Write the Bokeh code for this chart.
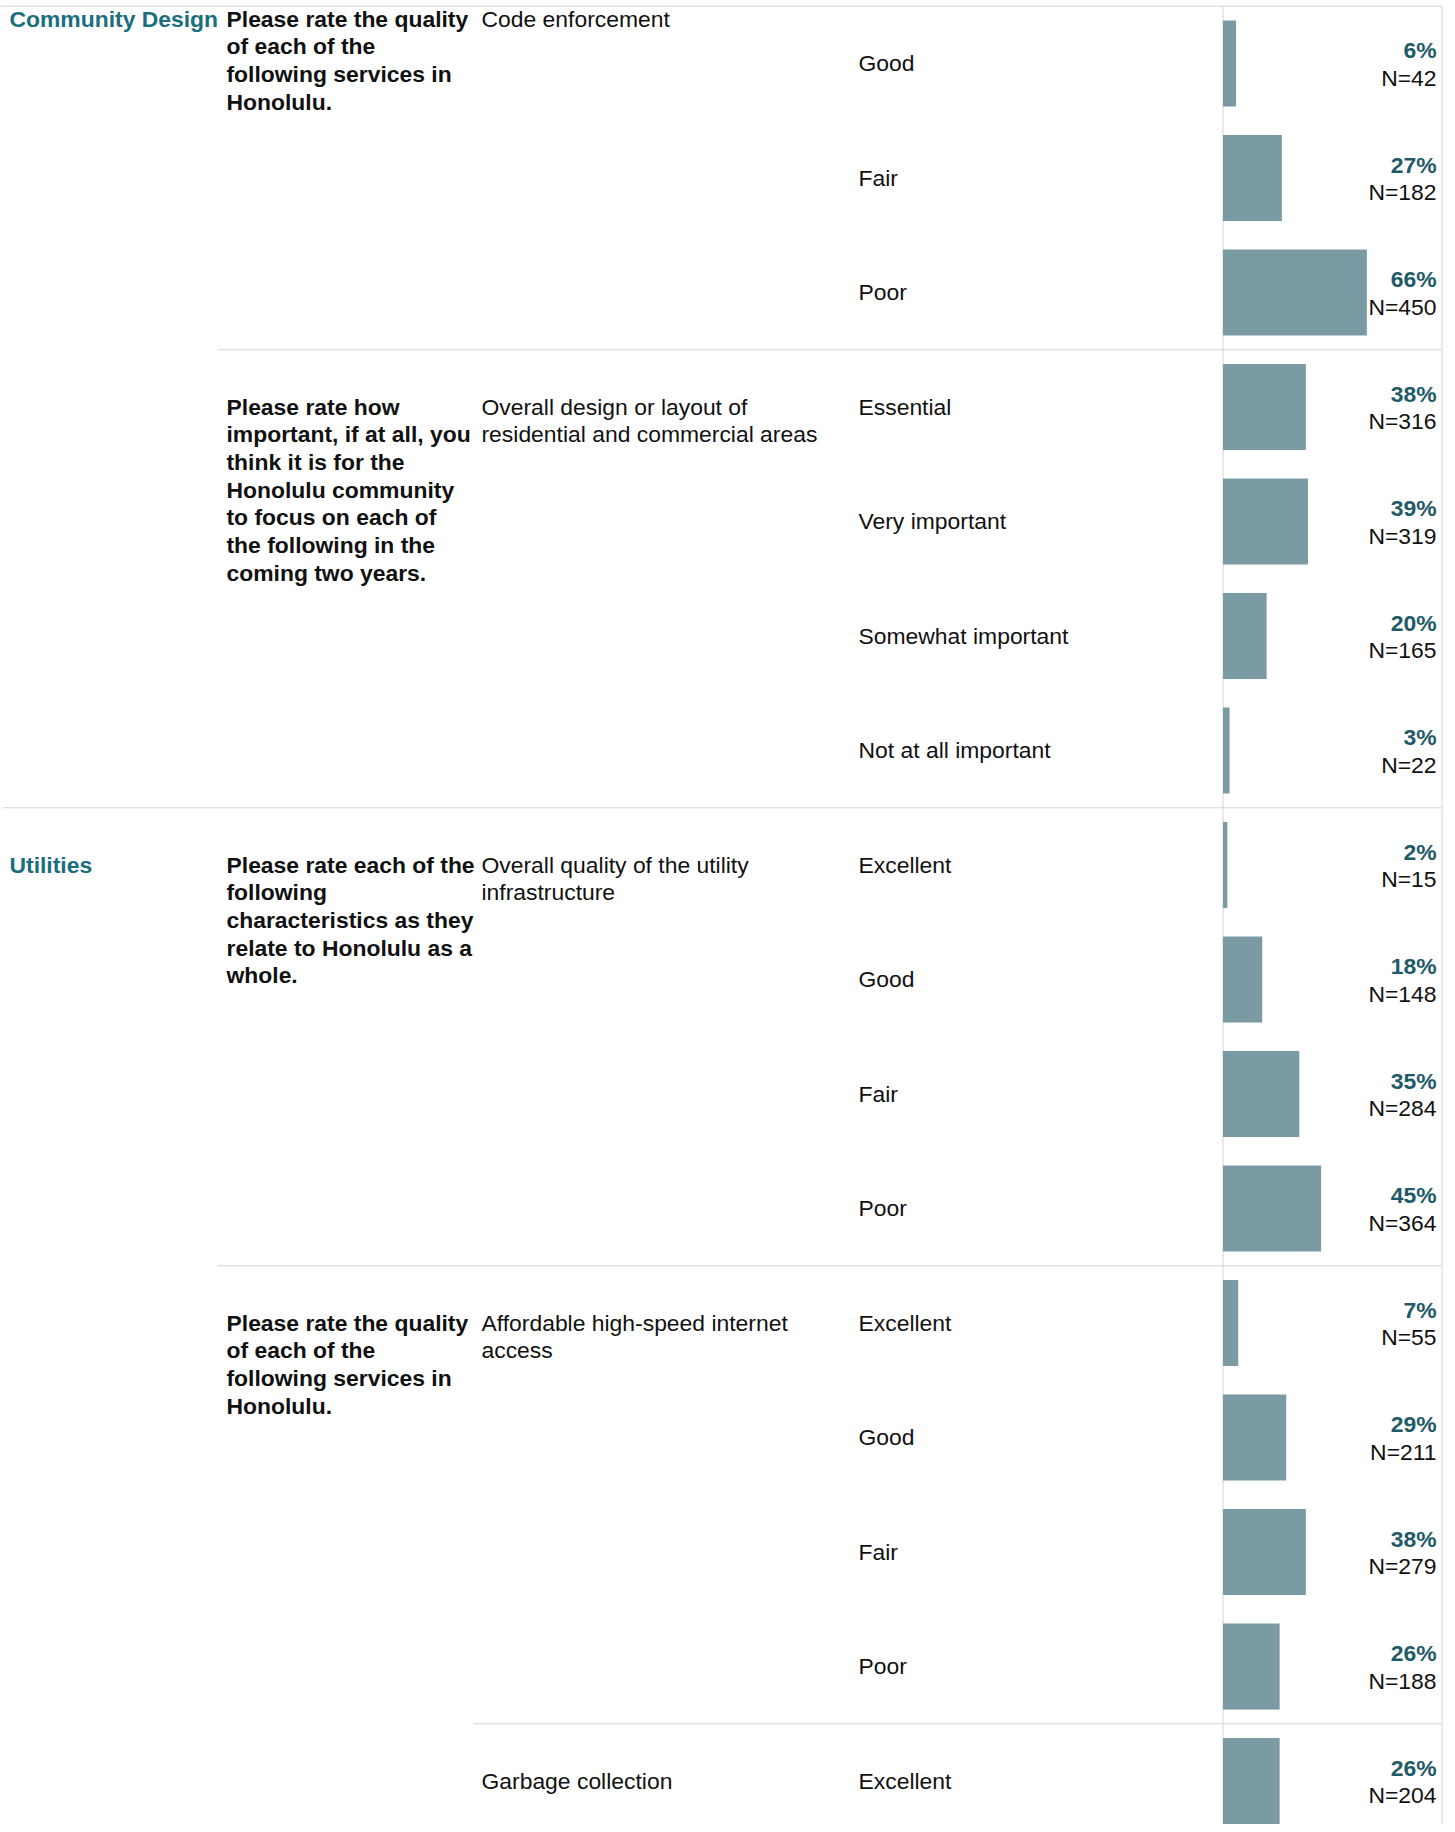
from bokeh.plotting import figure
from bokeh.models import Range1d, ColumnDataSource
from bokeh.embed import file_html
from bokeh.resources import INLINE
from bokeh.core.properties import value

# ---------------- data ----------------
answers = ["Good", "Fair", "Poor",
           "Essential", "Very important", "Somewhat important", "Not at all important",
           "Excellent", "Good", "Fair", "Poor",
           "Excellent", "Good", "Fair", "Poor",
           "Excellent"]
percents = [6, 27, 66,
            38, 39, 20, 3,
            2, 18, 35, 45,
            7, 29, 38, 26,
            26]
counts = [42, 182, 450,
          316, 319, 165, 22,
          15, 148, 284, 364,
          55, 211, 279, 188,
          204]

categories = ["Community Design", "Utilities"]
category_start = [-1, 7]          # -1: group begins above the visible part (sticky header)

questions = [
    ["Please rate the quality", "of each of the", "following services in", "Honolulu."],
    ["Please rate how", "important, if at all, you", "think it is for the", "Honolulu community",
     "to focus on each of", "the following in the", "coming two years."],
    ["Please rate each of the", "following", "characteristics as they", "relate to Honolulu as a",
     "whole."],
    ["Please rate the quality", "of each of the", "following services in", "Honolulu."],
]
question_start = [-1, 3, 7, 11]

items = [
    ["Code enforcement"],
    ["Overall design or layout of", "residential and commercial areas"],
    ["Overall quality of the utility", "infrastructure"],
    ["Affordable high-speed internet", "access"],
    ["Garbage collection"],
]
item_start = [-1, 3, 7, 11, 15]

# ---------------- layout (page pixels) ----------------
W, H = 1447, 1824
ROW0_PX = 63.0
ROW_PX = 114.5
BAR_X0 = 1222.5
PX_PER_PCT = 2.18
RIGHT_X = 1441.5
COL_CAT, COL_Q, COL_ITEM, COL_ANS, COL_VAL = 9, 226, 481, 858, 1436
LINE_PX = 27.7
CAP_HALF = 8.3
SHIFT = -8.8          # renderer baseline correction
STICKY_PX = 13.0
FONT = value("Liberation Sans")
FS = "22.9px"
TEAL = "#1a6e7e"
DARK_TEAL = "#1f5a68"
BAR = "#7a9ba3"
GRID = "#d4d4d4"
TXT = "#111111"

top_row = (0 - ROW0_PX) / ROW_PX
bottom_row = (H - ROW0_PX) / ROW_PX
px = lambda d: d / ROW_PX  # pixel offset -> row units

p = figure(width=W, height=H,
           x_range=Range1d(0, W),
           y_range=Range1d(bottom_row, top_row),
           output_backend="svg", toolbar_location=None,
           x_axis_location=None, y_axis_location=None,
           min_border=0, outline_line_color=None)
p.extra_x_ranges = {"pct": Range1d((0 - BAR_X0) / PX_PER_PCT, (W - BAR_X0) / PX_PER_PCT)}
p.xgrid.visible = False
p.ygrid.visible = False
p.background_fill_color = "white"
p.border_fill_color = "white"

rows = list(range(len(answers)))

# separators
sep_y, sep_x0 = [-0.5], [0]
for s in category_start:
    if s > 0:
        sep_y.append(s - 0.5); sep_x0.append(2)
for s in question_start:
    if s > 0 and s not in category_start:
        sep_y.append(s - 0.5); sep_x0.append(COL_Q - 9)
for s in item_start:
    if s > 0 and s not in category_start and s not in question_start:
        sep_y.append(s - 0.5); sep_x0.append(COL_ITEM - 8)
p.segment(x0=sep_x0, x1=[RIGHT_X] * len(sep_y), y0=sep_y, y1=sep_y,
          line_color=GRID, line_width=1.2)
p.segment(x0=[BAR_X0, RIGHT_X], x1=[BAR_X0, RIGHT_X], y0=[-0.5] * 2, y1=[bottom_row] * 2,
          line_color=GRID, line_width=1)

# bars
p.hbar(y=rows, left=0, right=percents, height=86 / ROW_PX, x_range_name="pct",
       fill_color=BAR, line_color=None)


def block(texts, starts, x):
    xs, ys, ts = [], [], []
    for lines, s in zip(texts, starts):
        anchor = max(s, -0.5 + px(STICKY_PX))
        for k, t in enumerate(lines):
            xs.append(x)
            ys.append(anchor + px(CAP_HALF + SHIFT + k * LINE_PX))
            ts.append(t)
    return ColumnDataSource(dict(x=xs, y=ys, text=ts))


p.text(x="x", y="y", text="text", source=block([[c] for c in categories], category_start, COL_CAT),
       text_font=FONT, text_font_size=FS, text_font_style="bold", text_color=TEAL,
       text_align="left", text_baseline="alphabetic")
p.text(x="x", y="y", text="text", source=block(questions, question_start, COL_Q),
       text_font=FONT, text_font_size=FS, text_font_style="bold", text_color=TXT,
       text_align="left", text_baseline="alphabetic")
p.text(x="x", y="y", text="text", source=block(items, item_start, COL_ITEM),
       text_font=FONT, text_font_size=FS, text_color=TXT,
       text_align="left", text_baseline="alphabetic")

p.text(x=[COL_ANS] * len(rows), y=[r + px(CAP_HALF + SHIFT) for r in rows], text=answers,
       text_font=FONT, text_font_size=FS, text_color=TXT,
       text_align="left", text_baseline="alphabetic")
p.text(x=[COL_VAL] * len(rows), y=[r + px(-4.5 + SHIFT) for r in rows],
       text=[f"{v}%" for v in percents],
       text_font=FONT, text_font_size=FS, text_font_style="bold", text_color=DARK_TEAL,
       text_align="right", text_baseline="alphabetic")
p.text(x=[COL_VAL] * len(rows), y=[r + px(23 + SHIFT) for r in rows],
       text=[f"N={n}" for n in counts],
       text_font=FONT, text_font_size=FS, text_color=TXT,
       text_align="right", text_baseline="alphabetic")

open("out.html", "w").write(file_html(p, INLINE))
